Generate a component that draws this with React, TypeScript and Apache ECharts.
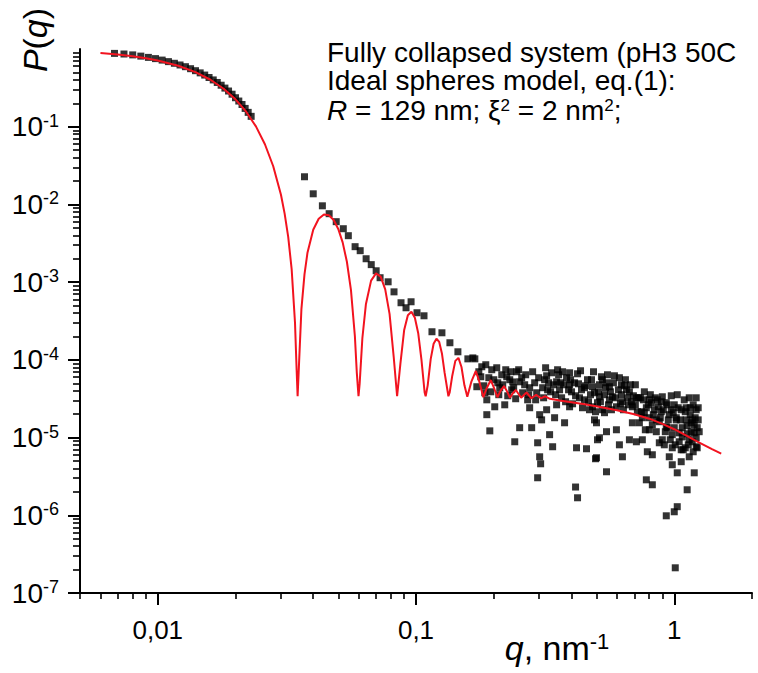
import React, { useEffect, useRef } from "react";
import * as echarts from "echarts";

const FONT = 'Arial, "Liberation Sans", Helvetica, sans-serif';

// ---- axis ticks / labels ----
const xMajorTicks = [0.01, 0.1, 1];
const xTickLabels = ["0,01", "0,1", "1"];
const yMajorTicks = [1e-7, 1e-6, 1e-5, 1e-4, 1e-3, 1e-2, 1e-1];
const yTickExponents = ["-7", "-6", "-5", "-4", "-3", "-2", "-1"];
const minorMantissas = [2, 3, 4, 5, 6, 7, 8, 9];
const xMinorDecades = [0.001, 0.01, 0.1, 1];
const yMinorDecades = [1e-7, 1e-6, 1e-5, 1e-4, 1e-3, 1e-2, 1e-1];

// ---- measured data: low-q (Guinier) band ----
const dataLowQ: number[][] = [
  [0.0068, 0.878], [0.0074, 0.862], [0.008, 0.84], [0.0086, 0.81], [0.0092, 0.78],
  [0.0098, 0.752], [0.0104, 0.72], [0.011, 0.688], [0.0116, 0.655], [0.0122, 0.623],
  [0.0128, 0.592], [0.0134, 0.558], [0.014, 0.526], [0.0146, 0.493], [0.0152, 0.462],
  [0.0158, 0.43], [0.0164, 0.4], [0.017, 0.371], [0.0176, 0.342], [0.0182, 0.314],
  [0.0188, 0.288], [0.0194, 0.262], [0.02, 0.236], [0.0206, 0.214], [0.0212, 0.193],
  [0.0218, 0.172], [0.0224, 0.153], [0.023, 0.136],
];

// ---- measured data: mid-q slope ----
const dataMidQ: number[][] = [
  [0.037, 2.27e-2], [0.04, 1.37e-2], [0.0434, 9.6e-3], [0.0461, 7.6e-3], [0.0491, 6.0e-3],
  [0.0523, 4.87e-3], [0.0547, 3.96e-3], [0.0581, 2.86e-3], [0.0608, 2.54e-3], [0.0641, 2.0e-3],
  [0.0671, 1.68e-3], [0.0701, 1.4e-3], [0.0726, 1.14e-3], [0.078, 1.01e-3], [0.0822, 7.5e-4],
  [0.0875, 5.43e-4], [0.0915, 4.68e-4], [0.0957, 5.59e-4], [0.1009, 4.04e-4], [0.1074, 3.69e-4],
  [0.1153, 2.3e-4], [0.126, 2.23e-4], [0.1353, 1.66e-4], [0.1453, 1.27e-4], [0.1588, 1.03e-4],
  [0.169, 1.03e-4],
];

// ---- measured data: high-q noisy cloud ----
const dataHighQ: number[][] = [
  [0.166, 1.06e-4], [0.172, 4.51e-5], [0.1751, 7.03e-5], [0.1798, 8.15e-5], [0.1847, 3.77e-5],
  [0.188, 3.06e-5], [0.188, 1.97e-5], [0.1914, 5.89e-5], [0.1931, 1.22e-5], [0.1965, 7.46e-5],
  [0.2018, 2.49e-5], [0.2073, 5.07e-5], [0.211, 4.38e-5], [0.2148, 6.43e-5], [0.2206, 2.64e-5],
  [0.2246, 6.06e-5], [0.2307, 5.55e-5], [0.2348, 4.12e-5], [0.2369, 5.2e-5], [0.2412, 8.83e-6],
  [0.2455, 7.03e-5], [0.252, 5.22e-5], [0.252, 1.34e-5], [0.2566, 5.89e-5], [0.2635, 4.78e-5],
  [0.2706, 3.06e-5], [0.2755, 2.42e-5], [0.2755, 4.38e-5], [0.2805, 1.34e-5], [0.2881, 5.07e-5],
  [0.2933, 3.77e-5], [0.2958, 8.57e-6], [0.2958, 3.04e-6], [0.3012, 1.97e-5], [0.3012, 5.66e-6],
  [0.3038, 4.6e-6], [0.3065, 1.69e-5], [0.3093, 4.38e-5], [0.3148, 5.55e-5], [0.3205, 2.28e-5],
  [0.3205, 6.24e-5], [0.3233, 4.12e-5], [0.3291, 1.09e-5], [0.332, 3.88e-5], [0.3381, 7.62e-6],
  [0.3411, 4.78e-5], [0.3441, 1.8e-5], [0.3503, 5.22e-5], [0.3503, 2.64e-5], [0.3566, 6.43e-5],
  [0.3597, 4.12e-5], [0.3663, 3.25e-5], [0.3728, 4.78e-5], [0.3761, 1.55e-5], [0.3828, 5.89e-5],
  [0.3933, 6.82e-5], [0.3933, 4.78e-5], [0.3933, 2.49e-5], [0.4002, 3.88e-5], [0.4111, 5.07e-5],
  [0.4148, 2.31e-6], [0.4184, 7.39e-6], [0.4222, 1.68e-6], [0.4222, 6.62e-5], [0.4297, 3.25e-5],
  [0.4374, 4.12e-5], [0.4492, 4.38e-5], [0.4492, 3.06e-5], [0.4573, 7.18e-6], [0.4614, 5.55e-5],
  [0.4697, 2.28e-5], [0.4739, 3.56e-5], [0.4781, 5.55e-5], [0.4825, 4.51e-5], [0.4825, 2.49e-5],
  [0.4911, 1.69e-5], [0.4911, 3.77e-5], [0.4955, 5.34e-6], [0.4999, 1.55e-5], [0.4999, 5.5e-6],
  [0.5043, 9.37e-6], [0.5043, 2.81e-5], [0.5132, 3.35e-5], [0.5132, 9.94e-6], [0.5132, 4.78e-5],
  [0.5224, 6.06e-5], [0.5272, 2.28e-5], [0.5368, 2.09e-5], [0.5368, 3.56e-5], [0.5465, 1.19e-5],
  [0.5465, 3.63e-6], [0.5465, 5.07e-5], [0.5562, 2.64e-5], [0.561, 4.51e-5], [0.5661, 3.88e-5],
  [0.5762, 3.35e-5], [0.5814, 5.07e-5], [0.5919, 3.25e-5], [0.5971, 1.26e-5], [0.6079, 4.12e-5],
  [0.6132, 8.07e-6], [0.6187, 2.72e-5], [0.6243, 4.78e-5], [0.6299, 2.89e-5], [0.6299, 5.66e-6],
  [0.6412, 4.64e-5], [0.6527, 4.12e-5], [0.6584, 3.25e-5], [0.6704, 9.37e-6], [0.6763, 4.78e-5],
  [0.6823, 2.89e-5], [0.6884, 2.49e-5], [0.6884, 1.55e-5], [0.707, 2.64e-5], [0.7134, 3.25e-5],
  [0.7134, 8.83e-6], [0.7261, 3.25e-5], [0.7327, 1.55e-5], [0.7458, 2.15e-5], [0.7523, 9.37e-6],
  [0.7592, 3.06e-5], [0.7659, 2.09e-5], [0.7796, 2.86e-6], [0.7796, 2.42e-5], [0.7866, 6.57e-6],
  [0.8007, 3.06e-5], [0.8007, 1.26e-5], [0.8007, 1.8e-5], [0.8151, 2.81e-5], [0.8224, 6.01e-6],
  [0.8224, 2.47e-6], [0.8372, 2.28e-5], [0.8447, 3.25e-5], [0.8521, 1.69e-5], [0.8676, 2.49e-5],
  [0.8752, 8.57e-6], [0.8831, 1.8e-5], [0.8909, 2.89e-5], [0.899, 9.37e-6], [0.907, 2.28e-5],
  [0.9233, 1.19e-5], [0.9313, 1.38e-5], [0.9313, 9.85e-7], [0.9398, 2.64e-5], [0.948, 1.69e-5],
  [0.9565, 5.66e-6], [0.9651, 9.37e-6], [0.9737, 2.28e-5], [0.9824, 7.39e-6], [0.9824, 4.47e-6],
  [0.9911, 2.09e-5], [1.0, 1.11e-6], [1.0, 1.34e-5], [1.009, 2.11e-7], [1.009, 8.07e-6],
  [1.018, 1.69e-5], [1.027, 3.52e-6], [1.027, 1.29e-6], [1.036, 2.42e-5], [1.045, 1.15e-5],
  [1.055, 1.69e-5], [1.064, 6.97e-6], [1.064, 4.89e-6], [1.074, 1.02e-5], [1.083, 6.97e-6],
  [1.103, 2.15e-5], [1.112, 2.42e-5], [1.122, 2.13e-6], [1.122, 1.42e-5], [1.133, 8.07e-6],
  [1.143, 9.37e-6], [1.143, 5.66e-6], [1.153, 2.42e-5], [1.163, 1.55e-5], [1.163, 1.19e-5],
  [1.174, 1.69e-5], [1.184, 6.57e-6], [1.195, 1.15e-5], [1.195, 3.52e-6], [1.205, 1.8e-5],
  [1.216, 2.28e-5], [1.216, 7.62e-6], [1.216, 9.94e-6], [1.227, 1.34e-5], [1.238, 2.42e-5],
];

// ---- measured data: dense part of the high-q band ----
const dataHighQBand: number[][] = [
  [0.1782, 6.06e-5], [0.183, 4.64e-5], [0.1863, 8.65e-5], [0.1948, 3.88e-5], [0.2001, 5.55e-5],
  [0.2054, 7.91e-5], [0.2092, 3.56e-5], [0.2167, 4.78e-5], [0.2226, 7.46e-5], [0.2266, 3.45e-5],
  [0.2327, 7.03e-5], [0.2389, 4.38e-5], [0.2432, 3.16e-5], [0.2498, 7.46e-5], [0.2588, 3.77e-5],
  [0.2659, 6.43e-5], [0.2731, 3.56e-5], [0.2829, 7.03e-5], [0.2906, 3.06e-5], [0.2985, 5.89e-5],
  [0.312, 3.25e-5], [0.3176, 7.91e-5], [0.3262, 5.07e-5], [0.3351, 6.82e-5], [0.3472, 3.56e-5],
  [0.3534, 7.46e-5], [0.363, 5.07e-5], [0.3695, 7.03e-5], [0.3795, 2.89e-5], [0.3897, 4.12e-5],
  [0.3967, 5.55e-5], [0.4039, 2.72e-5], [0.4148, 3.45e-5], [0.4259, 4.92e-5], [0.4336, 7.24e-5],
  [0.4413, 2.42e-5], [0.4533, 4.64e-5], [0.4656, 2.89e-5], [0.4868, 7.03e-5], [0.4955, 2.15e-5],
  [0.5088, 3.88e-5], [0.5178, 2.89e-5], [0.5272, 5.55e-5], [0.5416, 4.38e-5], [0.5513, 6.43e-5],
  [0.561, 3.06e-5], [0.5712, 2.28e-5], [0.5866, 6.24e-5], [0.5971, 2.49e-5], [0.6132, 5.89e-5],
  [0.6243, 3.56e-5], [0.6356, 2.28e-5], [0.647, 5.55e-5], [0.6645, 2.64e-5], [0.6704, 3.88e-5],
  [0.6946, 3.45e-5], [0.707, 4.78e-5], [0.7197, 2.15e-5], [0.7393, 3.25e-5], [0.7523, 1.8e-5],
  [0.7659, 3.88e-5], [0.7727, 1.26e-5], [0.7936, 2.64e-5], [0.8079, 3.56e-5], [0.8224, 1.46e-5],
  [0.8297, 1.97e-5], [0.8521, 1.19e-5], [0.8598, 3.06e-5], [0.8752, 1.6e-5], [0.8909, 2.15e-5],
  [0.899, 3.35e-5], [0.9151, 8.07e-6], [0.9313, 2.81e-5], [0.9398, 1.34e-5], [0.9565, 1.97e-5],
  [0.9737, 3.45e-5], [0.9824, 1.09e-5], [1.0, 2.64e-5], [1.018, 1.8e-5], [1.027, 3.56e-5],
  [1.045, 8.83e-6], [1.064, 2.28e-5], [1.074, 1.34e-5], [1.093, 3.06e-5], [1.103, 7.39e-6],
  [1.112, 1.69e-5], [1.122, 1.12e-5], [1.143, 3.25e-5], [1.153, 1.97e-5], [1.174, 8.83e-6],
  [1.184, 2.64e-5], [1.195, 1.46e-5], [1.216, 3.25e-5], [1.227, 7.39e-6], [1.238, 1.69e-5],
  [1.249, 1.19e-5],
];

// ---- ideal spheres model curve ----
const modelCurve: number[][] = [
  [0.006, 0.886], [0.007, 0.848], [0.008, 0.806], [0.009, 0.76], [0.01, 0.711],
  [0.012, 0.609], [0.014, 0.504], [0.016, 0.402], [0.018, 0.308], [0.02, 0.225],
  [0.022, 0.156], [0.024, 0.101], [0.026, 0.0595], [0.028, 0.031], [0.03, 0.0133],
  [0.031, 7.62e-3], [0.032, 3.83e-3], [0.033, 1.47e-3], [0.034, 3.0e-4], [0.0345, 7.4e-5],
  [0.0348, 3.4e-5], [0.0352, 8.1e-5], [0.036, 4.5e-4], [0.037, 1.26e-3], [0.038, 2.39e-3],
  [0.04, 4.73e-3], [0.042, 6.54e-3], [0.044, 7.41e-3], [0.046, 7.26e-3], [0.048, 6.29e-3],
  [0.05, 4.84e-3], [0.052, 3.25e-3], [0.054, 1.83e-3], [0.056, 7.9e-4], [0.058, 2.0e-4],
  [0.059, 6.8e-5], [0.0599, 3.4e-5], [0.0605, 4.9e-5], [0.062, 1.91e-4], [0.064, 5.24e-4],
  [0.067, 1.045e-3], [0.07, 1.296e-3], [0.073, 1.18e-3], [0.076, 8.07e-4], [0.079, 3.9e-4],
  [0.082, 1.08e-4], [0.0845, 3.4e-5], [0.087, 8.9e-5], [0.09, 2.43e-4], [0.093, 3.76e-4],
  [0.096, 4.15e-4], [0.099, 3.48e-4], [0.102, 2.2e-4], [0.105, 1.0e-4], [0.108, 3.8e-5],
  [0.109, 3.4e-5], [0.111, 4.7e-5], [0.114, 1.02e-4], [0.117, 1.61e-4], [0.12, 1.87e-4],
  [0.123, 1.7e-4], [0.126, 1.21e-4], [0.129, 6.9e-5], [0.1335, 3.4e-5], [0.135, 3.8e-5],
  [0.138, 6.1e-5], [0.142, 9.7e-5], [0.146, 1.06e-4], [0.15, 8.1e-5], [0.154, 4.7e-5],
  [0.158, 3.35e-5], [0.164, 5.3e-5], [0.1705, 7.2e-5], [0.176, 5.2e-5], [0.1823, 3.3e-5],
  [0.188, 4.35e-5], [0.1948, 5.5e-5], [0.201, 4.25e-5], [0.2067, 3.3e-5], [0.213, 4.05e-5],
  [0.2192, 4.6e-5], [0.225, 3.95e-5], [0.2311, 3.25e-5], [0.237, 3.7e-5], [0.2435, 4.1e-5],
  [0.2554, 3.25e-5], [0.268, 3.8e-5], [0.2798, 3.2e-5], [0.292, 3.55e-5], [0.3042, 3.2e-5],
  [0.3166, 3.4e-5], [0.33, 3.15e-5], [0.36, 3.0e-5], [0.4, 2.85e-5], [0.45, 2.68e-5],
  [0.51, 2.5e-5], [0.6, 2.25e-5], [0.7, 2.0e-5], [0.8, 1.75e-5], [0.9, 1.5e-5],
  [1.0, 1.28e-5], [1.1, 1.08e-5], [1.25, 8.6e-6], [1.4, 7.1e-6], [1.52, 6.2e-6],
];

const annotationLines = [
  "Fully collapsed system (pH3 50C",
  "Ideal spheres model, eq.(1):",
  "{i|R} = 129 nm; ξ{sup|2} = 2 nm{sup|2};",
];

const X_MIN = 0.005;
const X_MAX = 2;
const Y_MIN = 1e-7;
const Y_MAX = 1;

const xMinorTicks = xMinorDecades
  .flatMap((d) => minorMantissas.map((m) => Number((m * d).toPrecision(6))))
  .filter((v) => v >= X_MIN - 1e-12 && v <= X_MAX + 1e-12);
const yMinorTicks = yMinorDecades
  .flatMap((d) => minorMantissas.map((m) => Number((m * d).toPrecision(6))))
  .filter((v) => v >= Y_MIN && v <= Y_MAX);

const findIdx = (ticks: number[], v: number) =>
  ticks.findIndex((t) => Math.abs(Math.log10(t) - Math.log10(v)) < 1e-6);

const SYM = 7;

export default function App() {
  const ref = useRef<HTMLDivElement>(null);

  useEffect(() => {
    if (!ref.current) return;
    const chart = echarts.init(ref.current, null, { renderer: "svg" });
    const black = "#000";
    const scatter = (name: string, data: number[][]) => ({
      name,
      type: "scatter",
      xAxisIndex: 0,
      yAxisIndex: 0,
      symbol: "rect",
      symbolSize: SYM,
      itemStyle: { color: "#000" },
      data,
      z: 2,
    });
    const option: any = {
      animation: false,
      backgroundColor: "#fff",
      grid: { left: 80, right: 6, top: 49, bottom: 80, containLabel: false },
      xAxis: [
        {
          type: "log",
          logBase: 10,
          min: X_MIN,
          max: X_MAX,
          position: "bottom",
          axisLine: { show: true, onZero: false, lineStyle: { color: black, width: 2 } },
          axisTick: { show: true, customValues: xMajorTicks, length: 12, lineStyle: { color: black, width: 2 } },
          axisLabel: {
            show: true,
            customValues: xMajorTicks,
            margin: 24,
            color: black,
            fontSize: 26,
            lineHeight: 26,
            fontFamily: FONT,
            formatter: (v: number) => {
              const i = findIdx(xMajorTicks, v);
              return i >= 0 ? xTickLabels[i] : "";
            },
          },
          splitLine: { show: false },
          minorTick: { show: false },
        },
        {
          type: "log",
          logBase: 10,
          min: X_MIN,
          max: X_MAX,
          position: "bottom",
          axisLine: { show: false, onZero: false },
          axisTick: { show: true, customValues: xMinorTicks, length: 6, lineStyle: { color: black, width: 1.6 } },
          axisLabel: { show: false },
          splitLine: { show: false },
        },
      ],
      yAxis: [
        {
          type: "log",
          logBase: 10,
          min: Y_MIN,
          max: Y_MAX,
          position: "left",
          axisLine: { show: true, onZero: false, lineStyle: { color: black, width: 2 } },
          axisTick: { show: true, customValues: yMajorTicks, length: 12, lineStyle: { color: black, width: 2 } },
          axisLabel: {
            show: true,
            customValues: yMajorTicks,
            margin: 21,
            color: black,
            fontFamily: FONT,
            formatter: (v: number) => {
              const i = findIdx(yMajorTicks, v);
              return i >= 0 ? `{b|10}{sup|${yTickExponents[i]}}` : "";
            },
            rich: {
              b: { fontSize: 28, lineHeight: 30, fontFamily: FONT, color: black },
              sup: { fontSize: 18, lineHeight: 18, verticalAlign: "top", fontFamily: FONT, color: black },
            },
          },
          splitLine: { show: false },
          minorTick: { show: false },
        },
        {
          type: "log",
          logBase: 10,
          min: Y_MIN,
          max: Y_MAX,
          position: "left",
          axisLine: { show: false, onZero: false },
          axisTick: { show: true, customValues: yMinorTicks, length: 7, lineStyle: { color: black, width: 1.6 } },
          axisLabel: { show: false },
          splitLine: { show: false },
        },
      ],
      series: [
        scatter("low q", dataLowQ),
        scatter("mid q", dataMidQ),
        scatter("high q", dataHighQ),
        scatter("high q band", dataHighQBand),
        {
          name: "model",
          type: "line",
          xAxisIndex: 0,
          yAxisIndex: 0,
          showSymbol: false,
          symbol: "none",
          lineStyle: { color: "#f2131f", width: 2 },
          data: modelCurve,
          z: 3,
        },
      ],
      graphic: [
        ...annotationLines.map((t, i) => ({
          type: "text",
          x: 327,
          y: [52.5, 80.5, 110][i],
          style: {
            text: t,
            fontSize: 28,
            fontFamily: FONT,
            fill: black,
            align: "left",
            verticalAlign: "middle",
            lineHeight: 26,
            rich: {
              i: { fontStyle: "italic", fontSize: 28, fontFamily: FONT, fill: black, lineHeight: 26 },
              sup: { fontSize: 17, fontFamily: FONT, fill: black, lineHeight: 16, verticalAlign: "top" },
            },
          },
        })),
        {
          type: "text",
          x: 35,
          y: 40,
          rotation: Math.PI / 2,
          style: {
            text: "{i|P}({i|q})",
            fontSize: 34,
            fontFamily: FONT,
            fill: black,
            align: "center",
            verticalAlign: "middle",
            rich: {
              i: { fontStyle: "italic", fontSize: 34, fontFamily: FONT, fill: black },
            },
          },
        },
        {
          type: "text",
          x: 557,
          y: 648,
          style: {
            text: "{i|q}, nm{sup|-1}",
            fontSize: 34,
            fontFamily: FONT,
            fill: black,
            align: "center",
            verticalAlign: "middle",
            lineHeight: 36,
            rich: {
              i: { fontStyle: "italic", fontSize: 34, fontFamily: FONT, fill: black, lineHeight: 36 },
              sup: { fontSize: 22, fontFamily: FONT, fill: black, lineHeight: 22, verticalAlign: "top" },
            },
          },
        },
      ],
    };
    chart.setOption(option);
    return () => chart.dispose();
  }, []);

  return (
    <div
      ref={ref}
      style={{ position: "fixed", left: 0, top: 0, width: 758, height: 673, background: "#fff" }}
    />
  );
}
